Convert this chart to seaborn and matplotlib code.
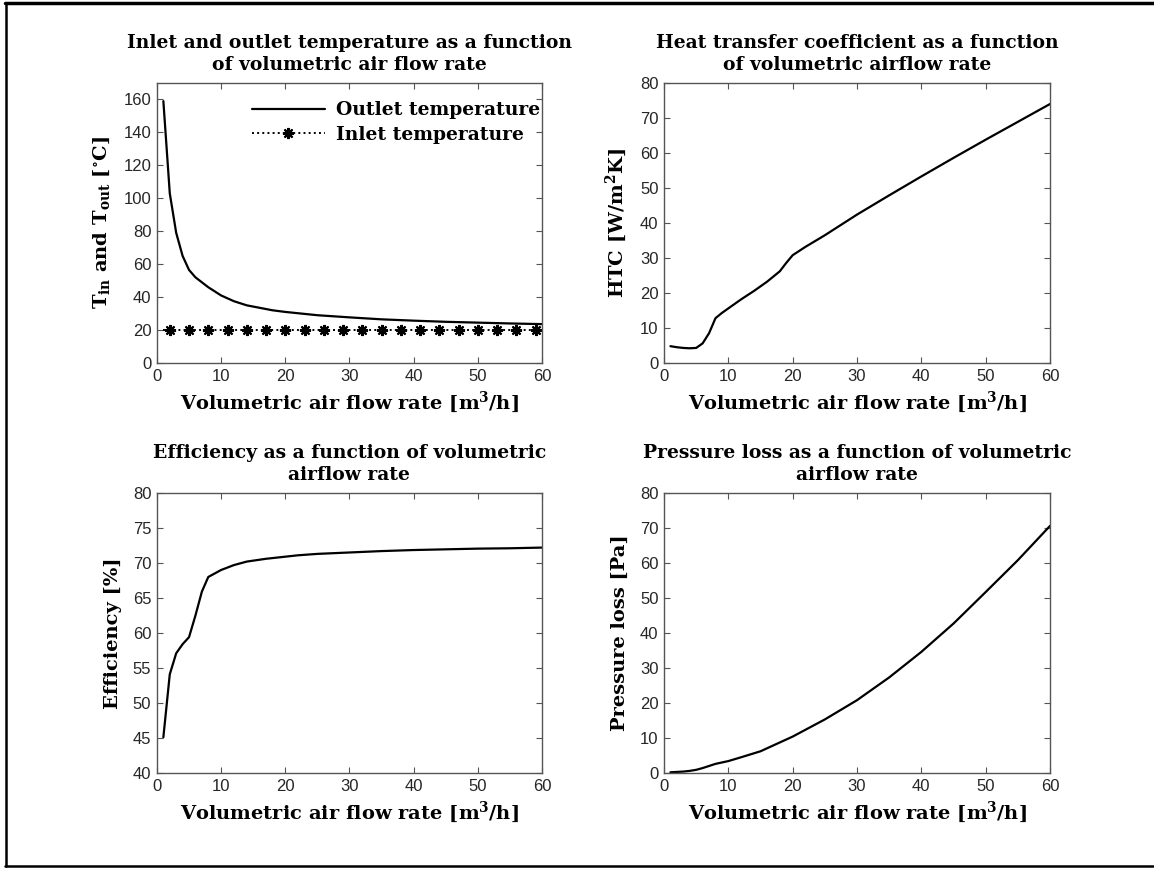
import numpy as np
import pandas as pd
import seaborn as sns
import matplotlib.pyplot as plt
from matplotlib.lines import Line2D

# values
OUTLET_X = [1, 2, 3, 4, 5, 6, 7, 8, 9, 10, 12, 14, 16, 18, 20, 25, 30, 35, 40, 45, 50, 55, 60]
OUTLET_T = [159, 103, 79, 65, 56.5, 52, 49, 46, 43.5, 41, 37.5, 35, 33.5, 32, 31, 29, 27.7,
            26.5, 25.7, 25, 24.5, 24, 23.6]
INLET_X = list(range(1, 61))
INLET_T = [20] * 60

HTC_X = [1, 2, 3, 4, 5, 6, 7, 8, 9, 10, 12, 14, 16, 18, 19, 20, 22, 25, 30, 35, 40, 45, 50, 55, 60]
HTC = [4.8, 4.5, 4.3, 4.2, 4.3, 5.6, 8.5, 12.8, 14.3, 15.6, 18.2, 20.6, 23.2, 26.2, 28.6, 30.8,
       33.2, 36.5, 42.4, 47.9, 53.3, 58.6, 63.8, 68.9, 74.0]

EFF_X = [1, 2, 3, 4, 5, 6, 7, 8, 10, 12, 14, 17, 20, 22, 25, 30, 35, 40, 45, 50, 55, 60]
EFF = [45.1, 54.1, 57.1, 58.4, 59.4, 62.5, 65.9, 68.0, 69.0, 69.7, 70.2, 70.6, 70.9, 71.1,
       71.3, 71.5, 71.7, 71.85, 71.95, 72.05, 72.1, 72.2]

DP_X = [1, 2, 3, 4, 5, 6, 7, 8, 9, 10, 12, 15, 20, 25, 30, 35, 40, 45, 50, 55, 60]
DP = [0.2, 0.3, 0.4, 0.6, 0.9, 1.4, 2.0, 2.6, 3.0, 3.4, 4.5, 6.2, 10.4, 15.3, 20.8, 27.3, 34.6,
      42.7, 51.7, 60.8, 70.6]

XLABEL = 'Volumetric air flow rate [m$^3$/h]'

sns.set_style('ticks', {'xtick.direction': 'in', 'ytick.direction': 'in'})
plt.rcParams['font.family'] = ['DejaVu Serif']
plt.rcParams['mathtext.default'] = 'regular'
plt.rcParams['text.color'] = 'black'
plt.rcParams['axes.labelcolor'] = 'black'

SPINE = '#555555'
TITLE_KW = dict(fontsize=13.5, fontweight='bold', family='DejaVu Serif', linespacing=1.3,
                color='black')
LABEL_KW = dict(fontsize=14, fontweight='bold', family='DejaVu Serif', color='black')


def style_axes(ax, yticks, ylim, title, ylabel):
    ax.set_xlim(0, 60)
    ax.set_ylim(*ylim)
    ax.set_xticks(range(0, 61, 10))
    ax.set_yticks(yticks)
    ax.tick_params(direction='in', top=True, right=True, length=4, width=0.8,
                   color=SPINE, labelsize=12, labelcolor='#262626', pad=4)
    for lab in ax.get_xticklabels() + ax.get_yticklabels():
        lab.set_family('Liberation Sans')
    for sp in ax.spines.values():
        sp.set_visible(True)
        sp.set_color(SPINE)
        sp.set_linewidth(1.0)
    ax.set_title(title, pad=9, **TITLE_KW)
    ax.set_xlabel(XLABEL, labelpad=4, **LABEL_KW)
    ax.set_ylabel(ylabel, labelpad=8, **LABEL_KW)


fig = plt.figure(figsize=(11.54, 8.69), dpi=100)
ax1 = fig.add_axes([0.136, 0.5823, 0.3336, 0.3222])
ax2 = fig.add_axes([0.5754, 0.5823, 0.3345, 0.3222])
ax3 = fig.add_axes([0.136, 0.1105, 0.3336, 0.3222])
ax4 = fig.add_axes([0.5754, 0.1105, 0.3345, 0.3222])

df_out = pd.DataFrame({'x': OUTLET_X, 'y': OUTLET_T})
df_in = pd.DataFrame({'x': INLET_X, 'y': INLET_T})
sns.lineplot(data=df_out, x='x', y='y', ax=ax1, color='black', linewidth=1.6,
             label='Outlet temperature')
sns.lineplot(data=df_in, x='x', y='y', ax=ax1, color='black', linewidth=1.4,
             linestyle=':', marker=(8, 2, 0), markersize=8, markeredgewidth=1.5,
             markeredgecolor='black', markevery=(1, 3), label='Inlet temperature')
style_axes(ax1, range(0, 161, 20), (0, 170),
           'Inlet and outlet temperature as a function\nof volumetric air flow rate',
           'T$_{in}$ and T$_{out}$ [$^{\\circ}$C]')
ax1.legend(loc='upper right', frameon=False, prop=dict(family='DejaVu Serif', weight='bold', size=13.5),
           handlelength=3.9, borderaxespad=0.1, labelspacing=0.35, borderpad=0.2,
           handletextpad=0.6, bbox_to_anchor=(1.01, 0.955))

sns.lineplot(data=pd.DataFrame({'x': HTC_X, 'y': HTC}), x='x', y='y', ax=ax2,
             color='black', linewidth=1.6)
style_axes(ax2, range(0, 81, 10), (0, 80),
           'Heat transfer coefficient as a function\nof volumetric airflow rate',
           'HTC [W/m$^2$K]')

sns.lineplot(data=pd.DataFrame({'x': EFF_X, 'y': EFF}), x='x', y='y', ax=ax3,
             color='black', linewidth=1.6)
style_axes(ax3, range(40, 81, 5), (40, 80),
           'Efficiency as a function of volumetric\nairflow rate',
           'Efficiency [%]')

sns.lineplot(data=pd.DataFrame({'x': DP_X, 'y': DP}), x='x', y='y', ax=ax4,
             color='black', linewidth=1.6)
style_axes(ax4, range(0, 81, 10), (0, 80),
           'Pressure loss as a function of volumetric\nairflow rate',
           'Pressure loss [Pa]')

# outer frame of the page
W, H = 1154, 869
fig.add_artist(Line2D([5 / W, 1], [1 - 3 / H, 1 - 3 / H], transform=fig.transFigure,
                      color='black', linewidth=2.5))
fig.add_artist(Line2D([6 / W, 6 / W], [1 - 3 / H, 1 - 866 / H], transform=fig.transFigure,
                      color='black', linewidth=1.8))
fig.add_artist(Line2D([5 / W, 1], [1 - 866 / H, 1 - 866 / H], transform=fig.transFigure,
                      color='black', linewidth=1.8))

fig.savefig('out.png', dpi=100)
